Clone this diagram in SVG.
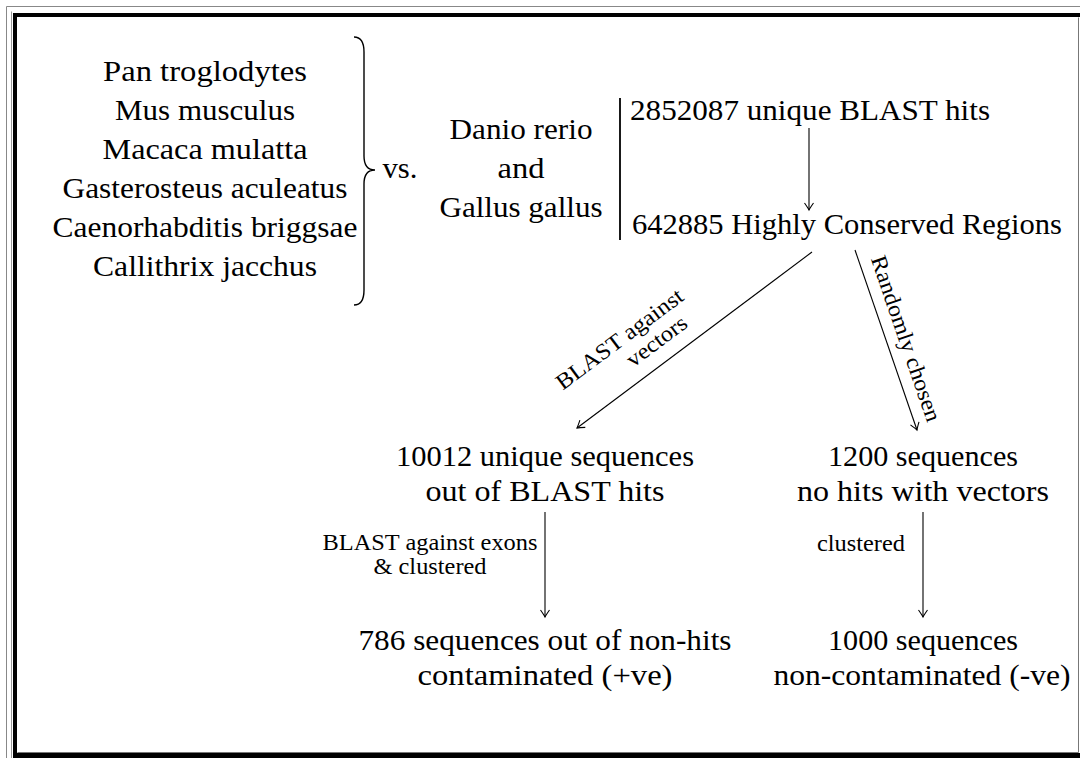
<svg xmlns="http://www.w3.org/2000/svg" width="1080" height="758" viewBox="0 0 1080 758">
<defs>
<style>
.t{font-family:"Liberation Serif","Times New Roman",serif;font-size:29.5px;fill:#000;text-anchor:middle}
.s{font-family:"Liberation Serif","Times New Roman",serif;font-size:22.5px;fill:#000;text-anchor:middle}
.ln{stroke:#000;stroke-width:1.1;fill:none}
</style>
<marker id="ah" viewBox="-10 -6 12 12" markerWidth="12" markerHeight="12" refX="0" refY="0" orient="auto" markerUnits="userSpaceOnUse">
<path d="M-7,-4.5 Q-2,-1 0,0 Q-2,1 -7,4.5" fill="none" stroke="#000" stroke-width="1.1"/>
</marker>
</defs>
<rect width="1080" height="758" fill="#fff"/>
<g id="frame">
<path d="M6.5,758 V6.5 H1080" fill="none" stroke="#888" stroke-width="1"/>
<path d="M11.5,758 V11.5" fill="none" stroke="#999" stroke-width="1"/>
<path d="M15,758 V15 H1080" fill="none" stroke="#000" stroke-width="4"/>
<path d="M17.5,752.5 H1078.5 V17.5" fill="none" stroke="#777" stroke-width="1"/>
<path d="M13,755.5 H1080" fill="none" stroke="#000" stroke-width="5"/>
</g>
<g id="species">
<text class="t" x="205" y="81" textLength="204" lengthAdjust="spacingAndGlyphs">Pan troglodytes</text>
<text class="t" x="205" y="120" textLength="180" lengthAdjust="spacingAndGlyphs">Mus musculus</text>
<text class="t" x="205" y="159" textLength="205" lengthAdjust="spacingAndGlyphs">Macaca mulatta</text>
<text class="t" x="205" y="198" textLength="285" lengthAdjust="spacingAndGlyphs">Gasterosteus aculeatus</text>
<text class="t" x="205" y="237" textLength="305" lengthAdjust="spacingAndGlyphs">Caenorhabditis briggsae</text>
<text class="t" x="205" y="276" textLength="224" lengthAdjust="spacingAndGlyphs">Callithrix jacchus</text>
</g>
<g id="brace">
<path d="M354,37 Q364,37 364,52 L364,156 Q364,170 375,170 Q364,170 364,184 L364,290 Q364,305 354,305" fill="none" stroke="#000" stroke-width="1.4"/>
</g>
<g id="vs">
<text class="t" x="400" y="178" textLength="35" lengthAdjust="spacingAndGlyphs">vs.</text>
</g>
<g id="targets">
<text class="t" x="521" y="139" textLength="143" lengthAdjust="spacingAndGlyphs">Danio rerio</text>
<text class="t" x="521" y="178" textLength="47" lengthAdjust="spacingAndGlyphs">and</text>
<text class="t" x="521" y="217" textLength="163" lengthAdjust="spacingAndGlyphs">Gallus gallus</text>
<line x1="620" y1="98" x2="620" y2="240" stroke="#000" stroke-width="1.8"/>
</g>
<g id="hits">
<text class="t" x="810" y="120" textLength="360" lengthAdjust="spacingAndGlyphs">2852087 unique BLAST hits</text>
</g>
<g id="hcr">
<text class="t" x="847" y="234" textLength="430" lengthAdjust="spacingAndGlyphs">642885 Highly Conserved Regions</text>
</g>
<g id="unique">
<text class="t" x="545" y="466" textLength="298" lengthAdjust="spacingAndGlyphs">10012 unique sequences</text>
<text class="t" x="545" y="501" textLength="239" lengthAdjust="spacingAndGlyphs">out of BLAST hits</text>
</g>
<g id="random">
<text class="t" x="923" y="466" textLength="190" lengthAdjust="spacingAndGlyphs">1200 sequences</text>
<text class="t" x="923" y="501" textLength="252" lengthAdjust="spacingAndGlyphs">no hits with vectors</text>
</g>
<g id="positive">
<text class="t" x="545" y="650" textLength="373" lengthAdjust="spacingAndGlyphs">786 sequences out of non-hits</text>
<text class="t" x="545" y="685" textLength="255" lengthAdjust="spacingAndGlyphs">contaminated (+ve)</text>
</g>
<g id="negative">
<text class="t" x="923" y="650" textLength="190" lengthAdjust="spacingAndGlyphs">1000 sequences</text>
<text class="t" x="922" y="685" textLength="297" lengthAdjust="spacingAndGlyphs">non-contaminated (-ve)</text>
</g>
<g id="connectors">
<line class="ln" x1="809" y1="128" x2="809" y2="210" marker-end="url(#ah)"/>
<line class="ln" x1="812" y1="252" x2="577" y2="428" marker-end="url(#ah)"/>
<line class="ln" x1="855" y1="250" x2="917" y2="430" marker-end="url(#ah)"/>
<line class="ln" x1="545" y1="512" x2="545" y2="617" marker-end="url(#ah)"/>
<line class="ln" x1="923" y1="512" x2="923" y2="617" marker-end="url(#ah)"/>
<text class="s" transform="translate(624,345) rotate(-36.8)" textLength="153" lengthAdjust="spacingAndGlyphs">BLAST against</text>
<text class="s" transform="translate(661,347) rotate(-36.8)" textLength="70" lengthAdjust="spacingAndGlyphs">vectors</text>
<text class="s" transform="translate(899,341) rotate(71)" textLength="174" lengthAdjust="spacingAndGlyphs">Randomly chosen</text>
<text class="s" x="430" y="550" textLength="215" lengthAdjust="spacingAndGlyphs">BLAST against exons</text>
<text class="s" x="430" y="574" textLength="113" lengthAdjust="spacingAndGlyphs">&amp; clustered</text>
<text class="s" x="861" y="551" textLength="88" lengthAdjust="spacingAndGlyphs">clustered</text>
</g>
</svg>
